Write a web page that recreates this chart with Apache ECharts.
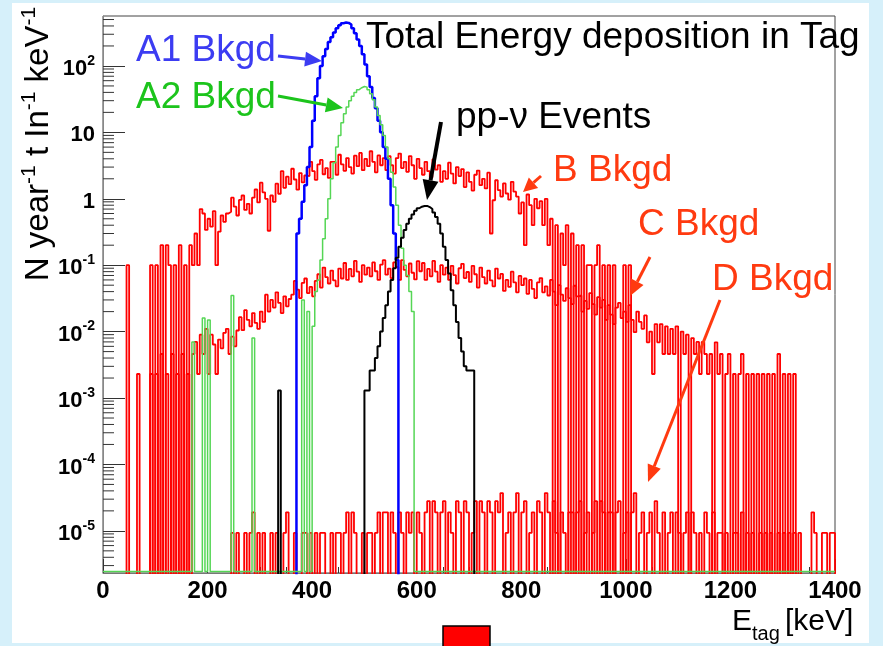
<!DOCTYPE html>
<html>
<head>
<meta charset="utf-8">
<script src="https://cdn.jsdelivr.net/npm/echarts@6.0.0/dist/echarts.min.js"></script>
<style>
  html, body { margin: 0; padding: 0; background: #d6f0fa; }
  #chart { width: 883px; height: 646px; }
</style>
</head>
<body>
<div id="chart"></div>
<script>
  // bin width in keV, every array below is one value per bin starting at its *Start energy
  const BIN = 5;
  const X_MIN = 0, X_MAX = 1400;
  const Y_MIN = 2.32e-6, Y_MAX = 565;

  // B background (upper red band)
  const bStart = 40;
  const bVals = [
    0, 0.1, 0, 0, 0, 0, 0, 0, 0, 0,
    0.1, 0, 0.1, 0, 0.2, 0, 0.2, 0.1, 0, 0.1,
    0, 0.2, 0, 0.1, 0, 0.2, 0.1, 0.3, 0.1, 0.7,
    0.6, 0.34, 0.5, 0.38, 0.65, 0.1, 0.32, 0.56, 0.45, 0.6,
    0.64, 1.04, 0.76, 0.56, 0.96, 1.12, 0.68, 0.84, 0.6, 1.04,
    1.38, 0.88, 1.75, 1.25, 1.0, 0.33, 1.12, 0.9, 1.69, 1.19,
    2.6, 1.46, 2.15, 1.66, 2.83, 1.95, 1.37, 2.44, 1.76, 2.24,
    2.2, 3.6, 2.6, 1.93, 3.3, 3.85, 2.34, 2.9, 2.06, 3.6,
    3.6, 2.3, 4.6, 3.3, 2.64, 4.1, 3.0, 2.4, 4.45, 3.1,
    4.9, 2.7, 4.0, 3.1, 5.2, 3.6, 2.5, 4.5, 3.2, 4.1,
    2.7, 4.4, 3.2, 2.4, 4.1, 4.8, 2.9, 3.6, 2.55, 4.4,
    3.2, 2.0, 4.0, 2.9, 2.3, 3.6, 2.6, 2.1, 3.9, 2.75,
    3.2, 1.8, 2.6, 2.0, 3.5, 2.4, 1.7, 3.0, 2.2, 2.8,
    1.5, 2.5, 1.8, 1.33, 2.3, 2.66, 1.6, 2.0, 1.43, 2.47,
    0.3, 0.95, 1.9, 1.35, 1.08, 1.7, 1.2, 0.97, 1.8, 1.28,
    1.08, 0.6, 0.88, 0.2, 1.16, 0.8, 0.4, 1.0, 0.72, 0.92,
    0.4, 1.0, 0.2, 0.5, 0, 0.4, 0, 0.3, 0.1, 0.4,
    0, 0.3, 0, 0.2, 0, 0.2, 0, 0.1, 0.1, 0,
    0.1, 0.2, 0, 0.1, 0, 0.1, 0, 0.1, 0, 0,
    0, 0.1, 0, 0.1, 0
  ];

  // C background (middle red band)
  const cStart = 60;
  const cVals = [
    0, 0.0023, 0, 0, 0, 0, 0.0023, 0, 0.0023, 0,
    0.0046, 0, 0.0023, 0, 0.0046, 0, 0.0023, 0, 0.0046, 0,
    0.0023, 0, 0.0046, 0.007, 0.0023, 0.009, 0.0046, 0.011, 0.0023, 0.009,
    0.0064, 0.0023, 0.0076, 0.0056, 0.0096, 0.011, 0.0046, 0.0084, 0.006, 0.0104,
    0.0165, 0.0105, 0.021, 0.015, 0.012, 0.019, 0.0135, 0.011, 0.02, 0.014,
    0.036, 0.02, 0.03, 0.023, 0.039, 0.027, 0.019, 0.034, 0.024, 0.031,
    0.036, 0.058, 0.043, 0.032, 0.054, 0.063, 0.038, 0.047, 0.034, 0.058,
    0.073, 0.046, 0.092, 0.066, 0.053, 0.083, 0.059, 0.048, 0.089, 0.063,
    0.108, 0.06, 0.088, 0.068, 0.116, 0.08, 0.056, 0.1, 0.072, 0.092,
    0.068, 0.11, 0.081, 0.06, 0.102, 0.119, 0.072, 0.089, 0.064, 0.11,
    0.094, 0.06, 0.119, 0.085, 0.068, 0.106, 0.077, 0.061, 0.115, 0.081,
    0.108, 0.06, 0.088, 0.068, 0.116, 0.08, 0.056, 0.1, 0.072, 0.092,
    0.06, 0.098, 0.071, 0.053, 0.09, 0.105, 0.064, 0.079, 0.056, 0.098,
    0.073, 0.046, 0.092, 0.066, 0.053, 0.083, 0.059, 0.048, 0.089, 0.063,
    0.074, 0.041, 0.06, 0.047, 0.08, 0.055, 0.039, 0.069, 0.05, 0.063,
    0.037, 0.06, 0.044, 0.032, 0.055, 0.064, 0.039, 0.048, 0.035, 0.06,
    0.04, 0.025, 0.05, 0.036, 0.029, 0.045, 0.032, 0.026, 0.049, 0.034,
    0.035, 0.02, 0.029, 0.022, 0.038, 0.026, 0.018, 0.033, 0.023, 0.03,
    0.015, 0.025, 0.018, 0.013, 0.023, 0.027, 0.016, 0.02, 0.014, 0.025,
    0.015, 0.0098, 0.02, 0.014, 0.011, 0.0175, 0.0069, 0.01, 0.0023, 0.013,
    0.0069, 0.013, 0.0046, 0.012, 0.0046, 0.011, 0.0046, 0.012, 0, 0.01,
    0.0046, 0.009, 0, 0.008, 0.0046, 0.007, 0.0023, 0.007, 0.0046, 0.0023,
    0.0046, 0, 0.0069, 0.0023, 0.0046, 0, 0.0023, 0.0046, 0, 0.0023,
    0, 0.0023, 0.0046, 0, 0.0023, 0, 0.0023, 0, 0.0023, 0,
    0.0023, 0, 0.0023, 0, 0.0023, 0, 0.0046, 0, 0.0023, 0,
    0.0023, 0, 0.0023, 0
  ];

  // D background (flat red floor)
  const dStart = 240;
  const dVals = [
    0, 9.3e-6, 0, 9.3e-6, 0, 0, 9.3e-6, 0, 9.3e-6, 1.9e-5,
    0, 9.3e-6, 0, 9.3e-6, 0, 0, 9.3e-6, 0, 9.3e-6, 0,
    0, 9.3e-6, 1.9e-5, 0, 0, 9.3e-6, 0, 0, 9.3e-6, 9.3e-6,
    0, 9.3e-6, 0, 9.3e-6, 0, 9.3e-6, 9.3e-6, 0, 0, 9.3e-6,
    0, 9.3e-6, 9.3e-6, 0, 9.3e-6, 1.9e-5, 0, 1.9e-5, 9.3e-6, 0,
    0, 9.3e-6, 0, 9.3e-6, 9.3e-6, 0, 9.3e-6, 1.9e-5, 0, 1.9e-5,
    1.9e-5, 0, 1.9e-5, 9.3e-6, 0, 1.9e-5, 9.3e-6, 0, 1.9e-5, 9.3e-6,
    1.9e-5, 0, 1.9e-5, 9.3e-6, 0, 1.9e-5, 2.8e-5, 0, 2.8e-5, 1.9e-5,
    0, 1.9e-5, 2.8e-5, 0, 1.9e-5, 9.3e-6, 0, 2.8e-5, 1.9e-5, 0,
    2.8e-5, 1.9e-5, 0, 9.3e-6, 2.8e-5, 0, 2.8e-5, 1.9e-5, 0, 2.8e-5,
    1.9e-5, 0, 2.8e-5, 1.9e-5, 3.7e-5, 0, 9.3e-6, 1.9e-5, 0, 1.9e-5,
    3.7e-5, 0, 1.9e-5, 2.8e-5, 0, 9.3e-6, 1.9e-5, 0, 2.8e-5, 1.9e-5,
    0, 3.7e-5, 1.9e-5, 0, 2.8e-5, 9.3e-6, 0, 1.9e-5, 9.3e-6, 0,
    1.9e-5, 1.9e-5, 0, 1.9e-5, 2.8e-5, 0, 9.3e-6, 1.9e-5, 0, 9.3e-6,
    2.8e-5, 0, 2.8e-5, 1.9e-5, 0, 1.9e-5, 1.9e-5, 0, 1.9e-5, 2.8e-5,
    0, 9.3e-6, 1.9e-5, 0, 1.9e-5, 3.7e-5, 0, 9.3e-6, 1.9e-5, 0,
    9.3e-6, 1.9e-5, 0, 2.8e-5, 9.3e-6, 0, 1.9e-5, 0, 9.3e-6, 1.9e-5,
    0, 1.9e-5, 9.3e-6, 0, 9.3e-6, 1.9e-5, 0, 1.9e-5, 9.3e-6, 0,
    9.3e-6, 0, 1.9e-5, 9.3e-6, 0, 1.9e-5, 0, 9.3e-6, 9.3e-6, 0,
    9.3e-6, 0, 0, 9.3e-6, 9.3e-6, 0, 1.9e-5, 0, 9.3e-6, 0,
    9.3e-6, 0, 0, 9.3e-6, 0, 9.3e-6, 0, 9.3e-6, 0, 0,
    9.3e-6, 0, 9.3e-6, 0, 9.3e-6, 0, 9.3e-6, 0, 9.3e-6, 0,
    0, 0, 0, 1.9e-5, 9.3e-6, 0, 0, 9.3e-6, 9.3e-6, 0,
    9.3e-6, 9.3e-6
  ];

  // A1 background (blue)
  const a1Start = 365;
  const a1Vals = [
    0, 0.3, 0.5, 0.9, 1.6, 3, 6, 15, 35, 65,
    100, 140, 180, 230, 270, 320, 370, 410, 440, 450,
    445, 420, 370, 310, 250, 200, 150, 105, 70, 48,
    33, 23, 15, 10, 6, 4, 2, 0.8, 0.3, 0.12,
    0
  ];

  // A2 background (green)
  const a2Start = 165;
  const a2Vals = [
    0, 0.007, 0, 0, 0, 0.016, 0, 0.015, 0, 0,
    0, 0, 0, 0, 0, 0, 0.035, 0, 0, 0,
    0, 0, 0, 0, 0.008, 0, 0, 0, 0, 0,
    0, 0, 0, 0, 0, 0, 0, 0, 0, 0,
    0, 0, 0, 0.03, 0, 0.02, 0, 0.012, 0.04, 0.06,
    0.12, 0.25, 0.5, 1.0, 2.0, 3.5, 6, 9, 14, 19,
    24, 30, 35, 40, 44, 47, 49, 48, 44, 38,
    31, 24, 18, 13, 9, 6, 4, 2.5, 1.5, 0.8,
    0.4, 0.18, 0.1, 0.07, 0.04, 0.02, 0
  ];

  // pp-nu events (black)
  const ppStart = 330;
  const ppVals = [
    0, 0.0013, 0, 0, 0, 0, 0, 0, 0, 0,
    0, 0, 0, 0, 0, 0, 0, 0, 0, 0,
    0, 0, 0, 0, 0, 0, 0, 0, 0, 0,
    0, 0, 0, 0, 0.0013, 0.0013, 0.0026, 0.0026, 0.004, 0.006,
    0.01, 0.016, 0.025, 0.04, 0.06, 0.09, 0.13, 0.19, 0.26, 0.34,
    0.42, 0.5, 0.58, 0.66, 0.72, 0.76, 0.78, 0.78, 0.75, 0.7,
    0.62, 0.53, 0.42, 0.3, 0.19, 0.12, 0.075, 0.042, 0.025, 0.014,
    0.008, 0.005, 0.003, 0.0026, 0.0026, 0.0026, 0
  ];

  const xTicks = [0, 200, 400, 600, 800, 1000, 1200, 1400];

  const FONT = '"Liberation Sans", Arial, Helvetica, sans-serif';
  const ZERO = 1e-9;          // empty bins fall below the frame
  const FLOOR = 2.45e-6;      // green empty bins sit on the frame bottom

  function hist(start, vals, zero) {
    let pts = vals.map((v, i) => [start + i * BIN, v > 0 ? v : zero]);
    pts.push([start + vals.length * BIN, zero]);
    return pts;
  }

  let a2Data = hist(a2Start, a2Vals, FLOOR);
  a2Data.unshift([X_MIN, FLOOR]);
  a2Data.push([X_MAX, FLOOR]);

  // log minor ticks 2..9 per decade
  let yMinor = [];
  for (let e = -6; e <= 2; e++) {
    for (let k = 2; k <= 9; k++) {
      let v = k * Math.pow(10, e);
      if (v > Y_MIN && v < Y_MAX) yMinor.push([X_MIN, v]);
    }
  }

  function histSeries(name, data, color, width, z) {
    return {
      name: name, type: 'line', data: data, step: 'end',
      symbol: 'none', clip: true, z: z,
      lineStyle: { color: color, width: width },
      silent: true
    };
  }

  function arrow(x1, y1, x2, y2, color, w, hl, hw) {
    const a = Math.atan2(y2 - y1, x2 - x1);
    const bx = x2 - hl * Math.cos(a), by = y2 - hl * Math.sin(a);
    return [
      { type: 'line', z: 50, shape: { x1: x1, y1: y1, x2: bx, y2: by },
        style: { stroke: color, lineWidth: w } },
      { type: 'polygon', z: 50, shape: { points: [
          [x2, y2],
          [bx + hw * Math.sin(a), by - hw * Math.cos(a)],
          [bx - hw * Math.sin(a), by + hw * Math.cos(a)]
        ] }, style: { fill: color } }
    ];
  }

  function label(text, x, y, size, color) {
    return { type: 'text', z: 50, x: x, y: y,
      style: { text: text, fill: color, font: size + 'px ' + FONT,
               align: 'left', verticalAlign: 'middle' } };
  }

  const BLUE_T = '#3c3cf2', GREEN_T = '#1cc41c', RED_T = '#ff3a10';

  let myChart = echarts.init(document.getElementById('chart'));
  myChart.setOption({
    animation: false,
    backgroundColor: '#d6f0fa',
    grid: {
      left: 103, right: 48, top: 16, bottom: 73,
      show: true, borderColor: '#444', borderWidth: 1,
      outerBoundsMode: 'none', containLabel: false
    },
    xAxis: {
      type: 'value', min: X_MIN, max: X_MAX, interval: 200,
      axisLine: { show: true, lineStyle: { color: '#777', width: 1 } },
      axisTick: { show: true, inside: true, length: 14, lineStyle: { color: '#333' } },
      minorTick: { show: true, splitNumber: 4, length: 6, lineStyle: { color: '#333' } },
      splitLine: { show: false },
      axisLabel: {
        margin: 6, color: '#000', fontFamily: FONT, fontWeight: 'bold', fontSize: 24,
        formatter: v => xTicks.indexOf(v) >= 0 ? String(v) : ''
      }
    },
    yAxis: {
      type: 'log', logBase: 10, min: Y_MIN, max: Y_MAX,
      axisLine: { show: true, lineStyle: { color: '#888', width: 1 } },
      axisTick: { show: true, inside: true, length: 22, lineStyle: { color: '#333' } },
      splitLine: { show: false },
      axisLabel: {
        margin: 8, showMinLabel: false, showMaxLabel: false, padding: [6, 0, 0, 0],
        formatter: function (v) {
          const e = Math.round(Math.log10(v));
          if (e === 0) return '{b|1}';
          if (e === 1) return '{b|10}';
          return '{b|10}{s|' + e + '}';
        },
        rich: {
          b: { fontFamily: FONT, fontSize: 22, fontWeight: 'bold', color: '#000', lineHeight: 30 },
          s: { fontFamily: FONT, fontSize: 14, fontWeight: 'bold', color: '#000', lineHeight: 14, verticalAlign: 'top' }
        }
      }
    },
    series: [
      histSeries('D Bkgd', hist(dStart, dVals, ZERO), '#ff0000', 1.8, 2),
      histSeries('C Bkgd', hist(cStart, cVals, ZERO), '#ff0000', 1.8, 3),
      histSeries('B Bkgd', hist(bStart, bVals, ZERO), '#ff0000', 1.8, 4),
      histSeries('A1 Bkgd', hist(a1Start, a1Vals, ZERO), '#0000ff', 2.5, 5),
      histSeries('A2 Bkgd', a2Data, '#55d655', 1.5, 6),
      histSeries('pp-ν Events', hist(ppStart, ppVals, ZERO), '#000000', 2, 7),
      {
        type: 'custom', data: yMinor, silent: true, z: 8,
        encode: { x: 0, y: 1 },
        renderItem: function (params, api) {
          const p = api.coord([api.value(0), api.value(1)]);
          return { type: 'line', shape: { x1: p[0], y1: p[1], x2: p[0] + 11, y2: p[1] },
                   style: { stroke: '#333', lineWidth: 1 } };
        }
      }
    ],
    graphic: [
      { type: 'rect', z: -10, silent: true, shape: { x: 12, y: 3, width: 857, height: 640 },
        style: { fill: '#ffffff' } },
      label('Total Energy deposition in Tag', 366, 38, 37, '#000'),
      label('A1 Bkgd', 136, 51, 37, BLUE_T),
      label('A2 Bkgd', 136, 98, 37, GREEN_T),
      label('pp-ν Events', 456, 118, 37, '#000'),
      label('B Bkgd', 553, 171, 37, RED_T),
      label('C Bkgd', 638, 225, 37, RED_T),
      label('D Bkgd', 712, 280, 37, RED_T),
      ...arrow(278, 56, 322, 61, BLUE_T, 3, 17, 7.5),
      ...arrow(278, 96, 343, 108, GREEN_T, 3, 17, 7.5),
      ...arrow(441, 122, 427, 200, '#000', 4, 20, 8),
      ...arrow(541, 176, 523, 192, RED_T, 3, 14, 7),
      ...arrow(650, 257, 630, 296, RED_T, 3, 16, 7),
      ...arrow(720, 300, 648, 482, RED_T, 3, 17, 7),
      {
        type: 'text', z: 50, x: 39, y: 144, rotation: Math.PI / 2,
        style: {
          text: '{m|N year}{s|-1}{m| t In}{s|-1}{m| keV}{s|-1}',
          align: 'center', verticalAlign: 'middle',
          rich: {
            m: { fontFamily: FONT, fontSize: 33, fill: '#000', lineHeight: 40 },
            s: { fontFamily: FONT, fontSize: 21, fill: '#000', lineHeight: 20, verticalAlign: 'top' }
          }
        }
      },
      label('E', 732, 622, 30, '#000'),
      label('tag', 752, 634, 20, '#000'),
      label('[keV]', 785, 622, 30, '#000'),
      { type: 'rect', z: 50, shape: { x: 443, y: 626, width: 47, height: 24 },
        style: { fill: '#ff0000', stroke: '#000', lineWidth: 1.5 } }
    ]
  });
</script>
</body>
</html>
